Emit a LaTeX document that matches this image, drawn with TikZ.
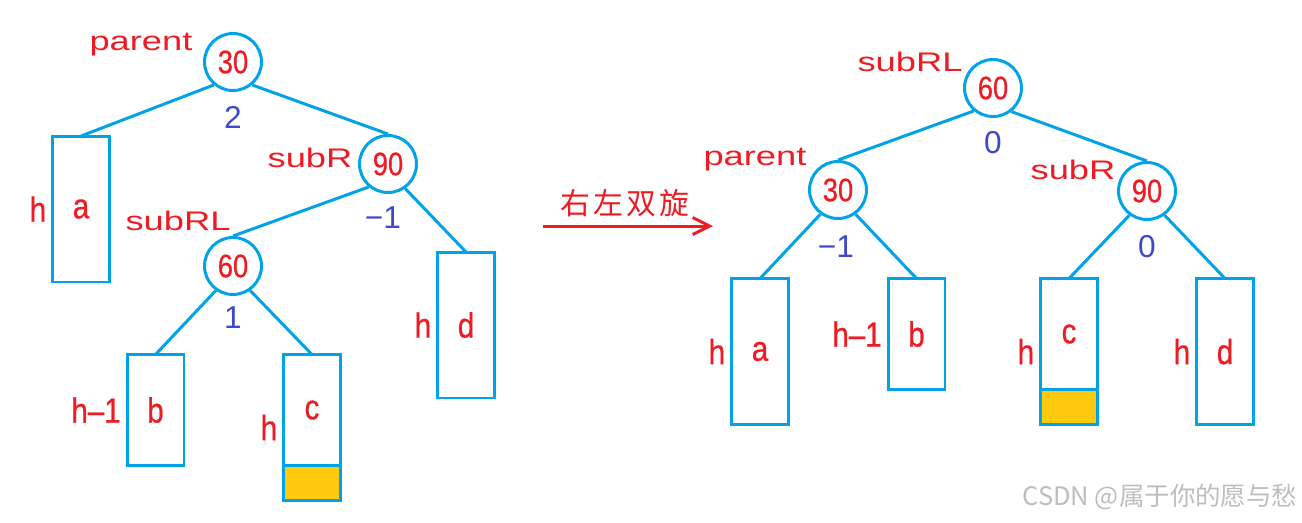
\documentclass[tikz,border=0pt]{standalone}
\usepackage{fontspec}
\usepackage{xcolor}
\usetikzlibrary{arrows.meta,positioning,calc}
\setmainfont{Liberation Sans}
\newfontfamily\narrowfont[FakeStretch=0.84,FakeBold=0.6]{Liberation Sans}
\newfontfamily\tagfont[FakeStretch=1.35]{Liberation Sans}
\newfontfamily\cjkfont[LetterSpace=10]{Noto Sans CJK SC}
\newfontfamily\markfont{Noto Sans CJK SC}
\definecolor{treeblue}{HTML}{00A2E8}
\definecolor{keyred}{HTML}{ED1C24}
\definecolor{bfblue}{HTML}{3F48CC}
\definecolor{growfill}{HTML}{FFC90E}
\definecolor{markgray}{HTML}{BDBDBD}
\tikzset{
  keynode/.style={draw=treeblue,fill=white,line width=1.7pt,circle,
                  minimum size=1.14cm,inner sep=0pt,text=keyred,
                  font=\narrowfont\fontsize{18.5}{18.5}\selectfont},
  tallbox/.style={draw=treeblue,line width=1.7pt,outer sep=0pt,
                  minimum width=1.14cm,minimum height=2.92cm,inner sep=0pt,
                  text=keyred,font=\narrowfont\fontsize{20}{20}\selectfont},
  shortbox/.style={tallbox,minimum height=2.22cm},
  growbox/.style={draw=treeblue,fill=growfill,line width=1.7pt,outer sep=0pt,
                  minimum width=1.14cm,minimum height=0.7cm,inner sep=0pt},
  sidetag/.style={text=keyred,inner sep=0pt,font=\narrowfont\fontsize{20}{20}\selectfont},
  roletag/.style={text=keyred,inner sep=0pt,font=\tagfont\fontsize{15.3}{16}\selectfont},
  bftag/.style={text=bfblue,inner sep=0pt,font=\fontsize{18}{18}\selectfont},
  link/.style={draw=treeblue,line width=1.7pt},
  turnarr/.style={-{Straight Barb[length=0.34cm,width=0.34cm]},draw=keyred,line width=1.7pt}
}
\begin{document}
\begin{tikzpicture}[x=0.02cm,y=-0.02cm,label distance=0.12cm]
  \useasboundingbox (0,0) rectangle (1302,522);
  % before the turn
  \node[keynode] (l30) at (233,62) {30};
  \node[keynode] (l90) at (388,164) {90};
  \node[keynode] (l60) at (233,266) {60};
  \node[tallbox,label={[sidetag]left:h}] (la) at (81,209) {a};
  \node[tallbox,label={[sidetag]left:h}] (ld) at (466,325) {d};
  \node[shortbox,label={[sidetag]left:h–1}] (lb) at (155.5,410) {b};
  \node[shortbox] (lc) at (312,410) {c};
  \node[growbox,below=0pt of lc] (lcg) {};
  \node[sidetag,left=0.12cm] (lch) at ($(lc.north west)!0.5!(lcg.south west)$) {h};
  \draw[link] (l30.230) -- (la.north);
  \draw[link] (l30.310) -- (l90.north);
  \draw[link] (l90.230) -- (l60.north);
  \draw[link] (l90.305) -- (ld.north);
  \draw[link] (l60.235) -- (lb.north);
  \draw[link] (l60.305) -- (lc.north);
  \node[roletag] (lparent) at (141,45) {parent};
  \node[roletag] (lsubR) at (310,158) {subR};
  \node[roletag] (lsubRL) at (178,221) {subRL};
  \node[bftag] (lbf30) at (233,117) {2};
  \node[bftag] (lbf90) at (383,218) {−1};
  \node[bftag] (lbf60) at (233,318) {1};

  % the turn
  \coordinate (turnS) at (543,226);
  \coordinate (turnE) at (713,226);
  \draw[turnarr] (turnS) -- (turnE);
  \node[text=keyred,inner sep=0pt,font=\cjkfont\fontsize{17}{17}\selectfont] (turntxt) at (625,203) {右左双旋};

  % after the turn
  \node[keynode] (r60) at (993,88) {60};
  \node[keynode] (r30) at (838,190) {30};
  \node[keynode] (r90) at (1147,191) {90};
  \node[tallbox,label={[sidetag]left:h}] (ra) at (760,351.5) {a};
  \node[shortbox,label={[sidetag]left:h–1}] (rb) at (916.5,334) {b};
  \node[shortbox] (rc) at (1069,334) {c};
  \node[growbox,below=0pt of rc] (rcg) {};
  \node[sidetag,left=0.12cm] (rch) at ($(rc.north west)!0.5!(rcg.south west)$) {h};
  \node[tallbox,label={[sidetag]left:h}] (rd) at (1225,351.5) {d};
  \draw[link] (r60.230) -- (r30.north);
  \draw[link] (r60.308) -- (r90.north);
  \draw[link] (r30.234) -- (ra.north);
  \draw[link] (r30.306) -- (rb.north);
  \draw[link] (r90.234) -- (rc.north);
  \draw[link] (r90.306) -- (rd.north);
  \node[roletag] (rsubRL) at (910,62) {subRL};
  \node[roletag] (rparent) at (755,160) {parent};
  \node[roletag] (rsubR) at (1073,170) {subR};
  \node[bftag] (rbf60) at (993,143) {0};
  \node[bftag] (rbf30) at (836,247) {−1};
  \node[bftag] (rbf90) at (1147,247) {0};

  \node[text=markgray,inner sep=0pt,font=\markfont\fontsize{14.5}{14.5}\selectfont] (mark) at (1160,497) {CSDN @属于你的愿与愁};
\end{tikzpicture}
\end{document}
